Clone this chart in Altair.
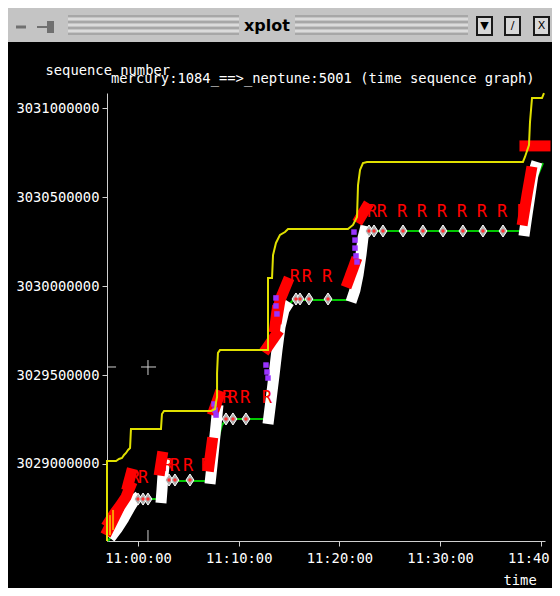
import altair as alt
import pandas as pd

# ---------------- data (time = minutes after 11:00:00, seq = sequence number) ----------------
# receive window (yellow)
win_t = [-3.08, -3.08, -2.18, -1.89, -1.59, -1.39, -1.19, -0.99, -0.79, -0.70, 2.28, 2.38, 2.58,
         7.25, 7.65, 7.75, 7.85, 7.85, 7.94, 8.14, 12.91, 12.91, 13.31, 13.41, 13.70, 14.10, 14.60,
         14.90, 20.85, 21.35, 21.75, 21.85, 22.05, 22.34, 22.74, 38.23, 38.43, 38.83, 38.93, 39.13,
         40.12, 40.32]
win_s = [3028567000, 3029017000, 3029017000, 3029028000, 3029034000, 3029051000, 3029062000,
         3029079000, 3029090000, 3029197000, 3029197000, 3029281000, 3029298000, 3029298000,
         3029309000, 3029348000, 3029376000, 3029511000, 3029624000, 3029640000, 3029640000,
         3030045000, 3030045000, 3030174000, 3030242000, 3030287000, 3030303000, 3030320000,
         3030320000, 3030343000, 3030388000, 3030567000, 3030652000, 3030691000, 3030697000,
         3030697000, 3030725000, 3030792000, 3030921000, 3031056000, 3031056000, 3031084000]

# ack line (green)
ack_t = [-2.98, -2.28, -1.39, -0.60, -0.10, 2.18, 2.48, 2.78, 2.98, 7.15, 7.55, 7.94, 8.34, 8.84,
         12.61, 13.11, 13.70, 14.40, 15.39, 20.85, 21.55, 22.14, 22.84, 38.23, 38.93, 39.52, 40.22]
ack_s = [3028567000, 3028624000, 3028708000, 3028781000, 3028803000, 3028803000, 3028854000,
         3028899000, 3028904000, 3028904000, 3029022000, 3029135000, 3029219000, 3029253000,
         3029253000, 3029444000, 3029669000, 3029854000, 3029921000, 3029921000, 3030079000,
         3030230000, 3030309000, 3030309000, 3030455000, 3030596000, 3030691000]

# data segments (white), one list per burst
seg_t = [[-2.78, -2.09, -1.39, -0.79, -0.30, 0.10],
         [2.28, 2.38, 2.48, 2.68],
         [7.15, 7.35, 7.55, 7.75, 7.94],
         [12.91, 13.21, 13.51, 13.80, 14.10, 14.50, 15.00],
         [21.15, 21.55, 21.85, 22.14, 22.34, 22.64],
         [38.33, 38.63, 38.93, 39.22, 39.62]]
seg_s = [[3028584000, 3028635000, 3028697000, 3028758000, 3028803000, 3028820000],
         [3028781000, 3028854000, 3028938000, 3029034000],
         [3028888000, 3028994000, 3029107000, 3029219000, 3029331000],
         [3029225000, 3029360000, 3029500000, 3029640000, 3029770000, 3029865000, 3029910000],
         [3029910000, 3029978000, 3030062000, 3030174000, 3030270000, 3030337000],
         [3030281000, 3030399000, 3030511000, 3030624000, 3030697000]]

# retransmitted segments (red)
retx_t = [[-2.88, -2.38, -1.79, -1.19, -0.79], [-2.98, -2.58, -2.09], [-0.99, -0.70], [2.18, 2.38],
          [7.05, 7.35], [7.55, 8.04], [12.81, 13.70], [13.60, 13.80], [13.80, 14.10, 14.80],
          [20.85, 21.55], [22.05, 22.64], [38.23, 38.63, 39.03], [38.43, 40.42]]
retx_s = [[3028674000, 3028719000, 3028764000, 3028815000, 3028871000],
          [3028629000, 3028674000, 3028730000], [3028882000, 3028944000],
          [3028966000, 3029039000], [3028989000, 3029118000], [3029303000, 3029382000],
          [3029652000, 3029725000], [3029770000, 3029860000], [3029820000, 3029921000, 3030017000],
          [3030022000, 3030129000], [3030382000, 3030438000], [3030371000, 3030511000, 3030640000],
          [3030787000, 3030787000]]

# "R" retransmission labels
r_t = [-0.30, 0.50, 2.98, 3.67, 4.97, 6.75, 8.84, 9.43, 10.63, 12.81, 15.59, 16.78, 18.77,
       23.24, 24.23, 26.22, 28.20, 30.19, 32.17, 34.16, 36.15, 38.13]
r_s = [3028921000, 3028921000, 3028989000, 3028989000, 3028989000, 3028989000, 3029371000,
       3029371000, 3029371000, 3029371000, 3030051000, 3030051000, 3030051000, 3030416000,
       3030416000, 3030416000, 3030416000, 3030416000, 3030416000, 3030416000, 3030416000,
       3030416000]

# duplicate acks (diamonds)
dup_t = [0.00, 0.50, 0.99, 3.08, 3.67, 5.16, 8.74, 9.43, 10.72, 15.69, 16.09, 16.98, 18.87,
         22.94, 23.44, 24.33, 26.32, 28.30, 30.29, 32.27, 34.26, 36.25]
dup_s = [3028803000, 3028803000, 3028803000, 3028910000, 3028910000, 3028910000, 3029253000,
         3029253000, 3029253000, 3029927000, 3029927000, 3029927000, 3029927000, 3030309000,
         3030309000, 3030309000, 3030309000, 3030309000, 3030309000, 3030309000, 3030309000,
         3030309000]

# SACK blocks (purple)
sack_t = [7.55, 7.65, 7.75, 12.71, 12.81, 12.91, 13.70, 13.70, 13.80, 21.45, 21.55, 21.55, 21.65, 21.75]
sack_s = [3029337000, 3029303000, 3029275000, 3029556000, 3029517000, 3029483000, 3029933000,
          3029888000, 3029843000, 3030303000, 3030258000, 3030213000, 3030169000, 3030135000]

# early window probes (orange)
orng_t = [-2.78, -2.48]
orng_s1 = [3028601000, 3028629000]
orng_s2 = [3028713000, 3028742000]

# crosshair cursor
cur_t = [0.30, 0.99, -2.98, 0.99]
cur_t2 = [1.79, 0.99, -2.18, 0.99]
cur_s = [3029545000, 3029500000, 3029545000, 3028567000]
cur_s2 = [3029545000, 3029584000, 3029545000, 3028629000]

x_ticks = [0, 10, 20, 30, 40]
y_ticks = [3029000000, 3029500000, 3030000000, 3030500000, 3031000000]
title_text = "mercury:1084_==>_neptune:5001 (time sequence graph)"


def lines_df(ts_list, ss_list):
    rows = []
    for k, (ts, ss) in enumerate(zip(ts_list, ss_list)):
        for i, (t, s) in enumerate(zip(ts, ss)):
            rows.append({"id": k, "i": i, "t": t, "s": s})
    return pd.DataFrame(rows)


FONT = "DejaVu Sans Mono"
xs = alt.Scale(domain=[-3.08, 40.42], nice=False, zero=False)
ys = alt.Scale(domain=[3028567400, 3031084300], nice=False, zero=False)
X = alt.X("t:Q", scale=xs, axis=alt.Axis(
    values=x_ticks, title="time", grid=False, tickSize=5, labelPadding=5,
    labelExpr="'11:' + (datum.value < 10 ? '0' : '') + datum.value + ':00'",
    titleX=396, titleY=39, titleAlign="left", titleBaseline="middle", titleAngle=0))
Y = alt.Y("s:Q", scale=ys, axis=alt.Axis(
    values=y_ticks, format="d", title="sequence number", grid=False, tickSize=5, labelPadding=3,
    titleX=-62, titleY=-23, titleAlign="left", titleBaseline="middle", titleAngle=0))

win_df = lines_df([win_t], [win_s])
ack_df = lines_df([ack_t], [ack_s])
seg_df = lines_df(seg_t, seg_s)
retx_df = lines_df(retx_t, retx_s)
r_df = pd.DataFrame({"t": r_t, "s": r_s})
dup_df = pd.DataFrame({"t": dup_t, "s": dup_s})
sack_df = pd.DataFrame({"t": sack_t, "s": sack_s})
orng_df = pd.DataFrame({"t": orng_t, "s": orng_s1, "s2": orng_s2})
cur_df = pd.DataFrame({"t": cur_t, "t2": cur_t2, "s": cur_s, "s2": cur_s2})

layers = []
layers.append(alt.Chart(ack_df).mark_line(color="#00c800", strokeWidth=2).encode(
    x=X, y=Y, order="i:Q", detail="id:N"))
layers.append(alt.Chart(seg_df).mark_line(color="#ffffff", strokeWidth=11, strokeJoin="round",
                                          strokeCap="butt").encode(
    x=X, y=Y, order="i:Q", detail="id:N"))
layers.append(alt.Chart(retx_df).mark_line(color="#ff0000", strokeWidth=11, strokeJoin="miter",
                                           strokeCap="square").encode(
    x=X, y=Y, order="i:Q", detail="id:N"))
layers.append(alt.Chart(orng_df).mark_rule(color="#ff9900", strokeWidth=2).encode(
    x=X, y=Y, y2="s2:Q"))
layers.append(alt.Chart(sack_df).mark_point(shape="square", size=30, filled=True, color="#9933ff",
                                            opacity=1).encode(x=X, y=Y))
layers.append(alt.Chart(dup_df).mark_point(shape="M0,-1L0.66,0L0,1L-0.66,0Z", size=144, filled=True,
                                           fill="#b0b0b0", stroke="#ffffff", strokeWidth=1,
                                           opacity=1).encode(x=X, y=Y))
layers.append(alt.Chart(dup_df).mark_point(shape="circle", size=12, filled=True, color="#ff3030",
                                           opacity=1).encode(x=X, y=Y))
layers.append(alt.Chart(r_df).mark_text(text="R", font=FONT, fontSize=17, color="#ff0000",
                                        baseline="middle", align="center").encode(x=X, y=Y))
layers.append(alt.Chart(win_df).mark_line(color="#e0e000", strokeWidth=2).encode(
    x=X, y=Y, order="i:Q", detail="id:N"))
layers.append(alt.Chart(cur_df).mark_rule(color="#d0d0d0", strokeWidth=1).encode(
    x=X, x2="t2:Q", y=Y, y2="s2:Q"))

# ---------------- graph title and window title bar (decoration) ----------------
one = pd.DataFrame({"a": [0]})
layers.append(alt.Chart(one).mark_text(text=title_text, font=FONT, fontSize=13.8, color="#ffffff",
                                       baseline="middle", align="left").encode(
    x=alt.value(4), y=alt.value(-14)))
layers.append(alt.Chart(one).mark_rect(color="#c4c4c4").encode(
    x=alt.value(-99), x2=alt.value(445), y=alt.value(-85), y2=alt.value(-51)))
for k, yy in enumerate([-77, -74, -71, -68, -65, -62, -59]):
    col = "#8a8a8a" if k % 2 == 0 else "#f2f2f2"
    for xa, xb in [(-39, 132), (188, 361)]:
        layers.append(alt.Chart(one).mark_rule(color=col, strokeWidth=1).encode(
            x=alt.value(xa), x2=alt.value(xb), y=alt.value(yy)))
layers.append(alt.Chart(one).mark_text(text="xplot", font="DejaVu Sans", fontSize=16,
                                       fontWeight="bold", color="#000000", baseline="middle",
                                       align="center").encode(x=alt.value(160), y=alt.value(-67)))
for bx, sym in [(370, "▼"), (398, "/"), (427, "X")]:
    layers.append(alt.Chart(one).mark_rect(fill="#d8d8d8", stroke="#1a1a1a", strokeWidth=2).encode(
        x=alt.value(bx), x2=alt.value(bx + 15), y=alt.value(-76), y2=alt.value(-58)))
    layers.append(alt.Chart(one).mark_text(text=sym, font="DejaVu Sans", fontSize=11, color="#000000",
                                           baseline="middle", align="center").encode(
        x=alt.value(bx + 7.5), y=alt.value(-67)))
layers.append(alt.Chart(one).mark_rule(color="#707070", strokeWidth=3).encode(
    x=alt.value(-91), x2=alt.value(-81), y=alt.value(-66)))
layers.append(alt.Chart(one).mark_rule(color="#707070", strokeWidth=2).encode(
    x=alt.value(-70), x2=alt.value(-56), y=alt.value(-66)))
layers.append(alt.Chart(one).mark_rect(color="#707070").encode(
    x=alt.value(-60), x2=alt.value(-53), y=alt.value(-72), y2=alt.value(-60)))

chart = alt.layer(*layers).properties(
    width=438, height=448,
    padding={"left": 99, "top": 85, "right": 7, "bottom": 47},
    autosize=alt.AutoSizeParams(type="none"),
    background="#000000",
).configure_view(stroke=None).configure_axis(
    domainColor="#d0d0d0", tickColor="#d0d0d0", labelColor="#ffffff", titleColor="#ffffff",
    labelFont=FONT, titleFont=FONT, labelFontSize=13.8, titleFontSize=13.8,
    titleFontWeight="normal", labelFontWeight="normal")

chart.save("out.html", embed_options={"renderer": "svg", "actions": False})
